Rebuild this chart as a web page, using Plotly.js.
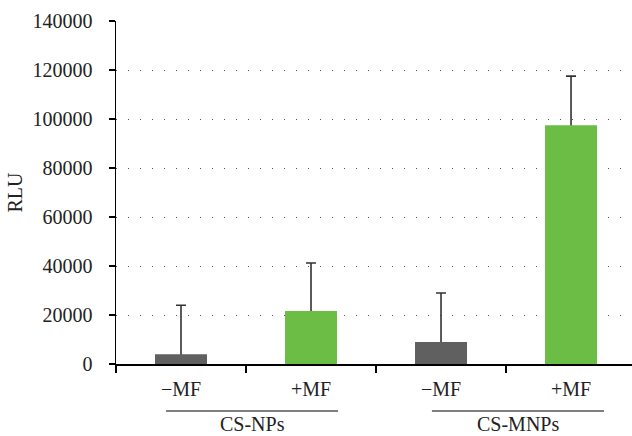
<!DOCTYPE html>
<html><head><meta charset="utf-8">
<script src="https://cdn.plot.ly/plotly-3.0.1.min.js"></script>
<style>body{margin:0;background:#fff}#chart{width:632px;height:436px}</style>
</head><body><div id="chart"></div>
<script>
const categories = ["a", "b", "c", "d"];
const tickLabels = ["\u2212MF", "+MF", "\u2212MF", "+MF"];
const values = [4000, 21600, 9000, 97500];
const errors = [20000, 19600, 20000, 20000];
const barColors = ["#606060", "#6cbd45", "#606060", "#6cbd45"];
const groupLabels = ["CS-NPs", "CS-MNPs"];
const groupSpans = [[-0.115, 1.208], [1.93, 3.254]];

const font = "'Liberation Serif', 'Times New Roman', serif";
const fs = 20;
// error bars carried by a transparent bar trace, drawn beneath the opaque bars
const errTrace = {
  type: "bar", x: categories, y: values, width: 0.4, hoverinfo: "skip",
  marker: {color: "rgba(0,0,0,0)"},
  error_y: {type: "data", symmetric: true, array: errors,
            color: "#333333", thickness: 1.6, width: 5}
};
const barTrace = {
  type: "bar", x: categories, y: values, width: 0.4,
  marker: {color: barColors}
};
const shapes = groupSpans.map(s => ({type: "line", xref: "x", yref: "paper",
  x0: s[0], x1: s[1], y0: -0.137, y1: -0.137, line: {color: "#000", width: 1.2}}));
const annotations = groupLabels.map((t, i) => ({text: t, xref: "x", yref: "paper",
  x: (groupSpans[i][0] + groupSpans[i][1]) / 2, y: -0.212, yanchor: "bottom", showarrow: false,
  font: {family: font, size: fs, color: "#222"}}));

const layout = {
  width: 632, height: 436,
  margin: {l: 116, r: 0, t: 21, b: 72},
  paper_bgcolor: "#fff", plot_bgcolor: "#fff",
  showlegend: false, barmode: "overlay",
  font: {family: font, size: fs, color: "#222"},
  xaxis: {type: "category", tickvals: categories, ticktext: tickLabels,
          range: [-0.5, 3.469], showgrid: false, showline: true, linecolor: "#000", linewidth: 1.5,
          ticks: "outside", tickson: "boundaries", ticklen: 7, tickcolor: "#000", tickwidth: 1.5,
          ticklabelstandoff: 6,
          tickfont: {family: font, size: fs, color: "#222"}, zeroline: false},
  yaxis: {range: [0, 140000], dtick: 20000, showline: true, linecolor: "#000", linewidth: 1.5,
          ticks: "outside", ticklen: 6, tickcolor: "#000", tickwidth: 1.5,
          ticklabelstandoff: 12,
          showgrid: true, gridcolor: "#555", gridwidth: 1, griddash: "1px,11px",
          zeroline: false, tickformat: "d",
          tickfont: {family: font, size: fs, color: "#222"},
          title: {text: "RLU", standoff: 4, font: {family: font, size: fs, color: "#222"}}},
  shapes: shapes, annotations: annotations
};
Plotly.newPlot("chart", [errTrace, barTrace], layout, {displayModeBar: false, staticPlot: true});
</script></body></html>
